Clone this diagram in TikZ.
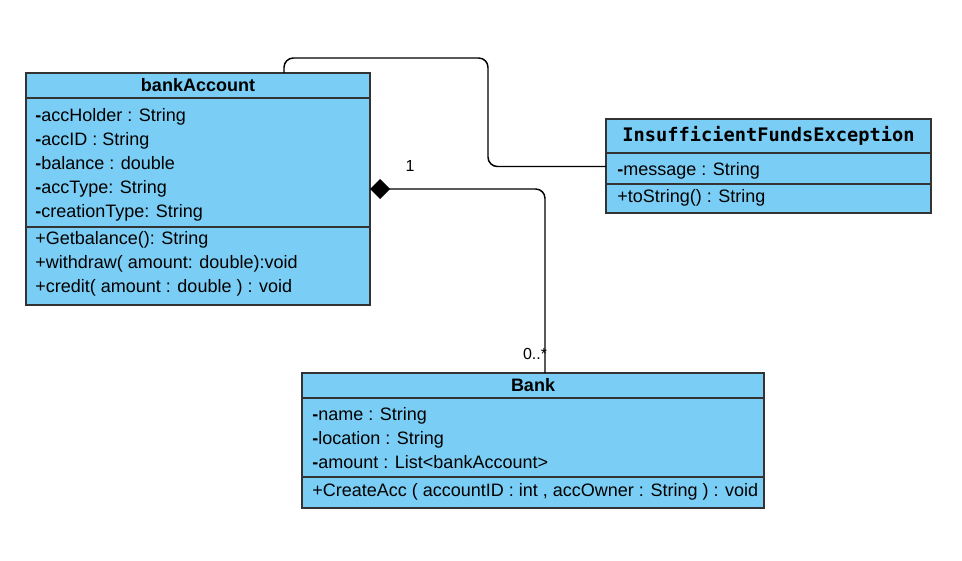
\documentclass[tikz,border=0pt]{standalone}
\usepackage{fontspec}
\setmainfont{Liberation Sans}
\setmonofont{DejaVu Sans Mono}
\usetikzlibrary{arrows.meta,positioning,calc}
\definecolor{classFill}{RGB}{122,206,245}

\begin{document}
\begin{tikzpicture}[x=0.75pt, y=-0.75pt,
    compart/.style={draw=black!80, fill=classFill, line width=1.1pt, anchor=north west, inner sep=0pt, outer sep=0pt},
    member/.style={anchor=base west, inner sep=0pt, font=\fontsize{13.5}{16}\selectfont},
    conn/.style={line width=1.1pt, rounded corners=7pt},
    mult/.style={inner sep=0pt, font=\fontsize{12}{14}\selectfont}]
    \useasboundingbox (0,0) rectangle (962,560);

    % bankAccount
    \node[compart, minimum width=258pt, minimum height=18.75pt, font=\bfseries\fontsize{13.5}{16}\selectfont] (bA-head) at (26,73) {bankAccount};
    \node[compart, minimum width=258pt, minimum height=96.75pt] (bA-attr) at (bA-head.south west) {};
    \node[compart, minimum width=258pt, minimum height=58.5pt] (bA-meth) at (bA-attr.south west) {};
    \foreach \y/\txt [count=\i] in {121/{\textbf{-}accHolder : String}, 145/{\textbf{-}accID : String},
        169/{\textbf{-}balance : double}, 193/{\textbf{-}accType: String}, 217/{\textbf{-}creationType: String},
        244/{+Getbalance(): String}, 268/{+withdraw( amount: double):void}, 292/{+credit( amount : double ) : void}}
      \node[member] (bA-m\i) at (35,\y) {\txt};

    % InsufficientFundsException
    \node[compart, minimum width=243.75pt, minimum height=25.5pt, font=\ttfamily\bfseries\fontsize{14}{16}\selectfont] (ex-head) at (606,119) {InsufficientFundsException};
    \node[compart, minimum width=243.75pt, minimum height=23.25pt] (ex-attr) at (ex-head.south west) {};
    \node[compart, minimum width=243.75pt, minimum height=21.75pt] (ex-meth) at (ex-attr.south west) {};
    \node[member] (ex-m1) at (617,175) {\textbf{-}message : String};
    \node[member] (ex-m2) at (617,202) {+toString() : String};

    % Bank
    \node[compart, minimum width=346.5pt, minimum height=18.75pt, font=\bfseries\fontsize{13.5}{16}\selectfont] (bank-head) at (302,373) {Bank};
    \node[compart, minimum width=346.5pt, minimum height=59.25pt] (bank-attr) at (bank-head.south west) {};
    \node[compart, minimum width=346.5pt, minimum height=23.25pt] (bank-meth) at (bank-attr.south west) {};
    \foreach \y/\txt [count=\i] in {420/{\textbf{-}name : String}, 444/{\textbf{-}location : String},
        468/{\textbf{-}amount : List<bankAccount>}, 496/{+CreateAcc ( accountID : int , accOwner : String ) : void}}
      \node[member] (bank-m\i) at (312,\y) {\txt};

    % bankAccount -- exception
    \coordinate (bend) at (488,58);
    \draw[conn] ($(bA-head.north west)+(258,0)$) |- (bend) |- ($(ex-attr.west)+(0,-2)$);

    % composition
    \draw[conn, {Diamond[length=15pt,width=15pt]}-] ($(bA-attr.east)+(0,26.5)$) -| ($(bank-head.north)+(12,0)$);
    \node[mult] (mult-one) at (410,166) {1};
    \node[mult] (mult-many) at (535,354) {0..*};
\end{tikzpicture}
\end{document}
